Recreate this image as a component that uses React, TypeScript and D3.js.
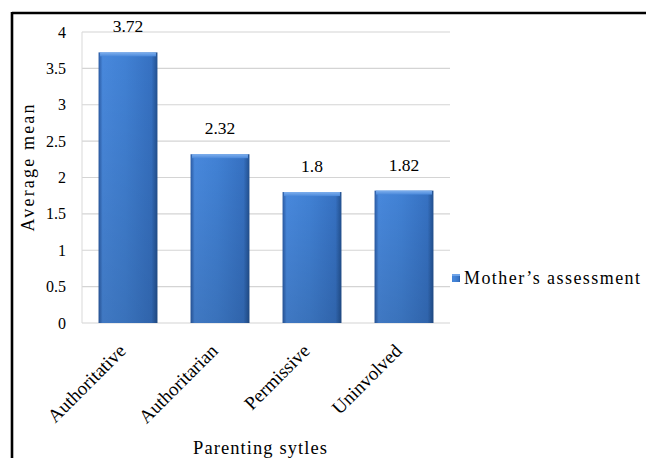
import React from "react";
import * as d3 from "d3";

const categories = ["Authoritative", "Authoritarian", "Permissive", "Uninvolved"];
const values = [3.72, 2.32, 1.8, 1.82];
const valueLabels = ["3.72", "2.32", "1.8", "1.82"];
const yTicks = [0, 0.5, 1, 1.5, 2, 2.5, 3, 3.5, 4];
const yTickLabels = ["0", "0.5", "1", "1.5", "2", "2.5", "3", "3.5", "4"];
const seriesName = "Mother\u2019s assessment";
const yTitle = "Average mean";
const xTitle = "Parenting sytles";

const W = 646;
const H = 458;
const FONT = "'Liberation Serif', 'Times New Roman', serif";
const T: React.CSSProperties = { fontFamily: FONT };

export default function App() {
  const x = d3.scaleBand<string>().domain(categories).range([82, 450]).paddingInner(0.36).paddingOuter(0.18);
  const y = d3.scaleLinear().domain([0, 4]).range([323, 32]);
  const bw = x.bandwidth();

  return (
    <svg
      width={W}
      height={H}
      style={{ position: "absolute", left: 0, top: 0, background: "#fff", fontFamily: FONT }}
    >
      <defs>
        <linearGradient id="barH" x1="0" x2="1" y1="0" y2="0">
          <stop offset="0%" stopColor="#2a5aa3" />
          <stop offset="7%" stopColor="#4888dc" />
          <stop offset="45%" stopColor="#4181d4" />
          <stop offset="90%" stopColor="#3671c2" />
          <stop offset="100%" stopColor="#22508f" />
        </linearGradient>
        <linearGradient id="barV" x1="0" x2="0" y1="0" y2="1">
          <stop offset="0%" stopColor="#000" stopOpacity="0" />
          <stop offset="100%" stopColor="#000" stopOpacity="0.12" />
        </linearGradient>
        <linearGradient id="barTop" x1="0" x2="0" y1="0" y2="1">
          <stop offset="0%" stopColor="#7fb0ee" />
          <stop offset="100%" stopColor="#4a88da" />
        </linearGradient>
      </defs>

      {/* frame */}
      <line x1={12} x2={W} y1={13} y2={13} stroke="#000" strokeWidth={2.6} />
      <line x1={12} x2={12} y1={12} y2={H} stroke="#000" strokeWidth={2.6} />

      {/* gridlines */}
      {yTicks.map((t) => (
        <line key={t} x1={82} x2={450} y1={y(t)} y2={y(t)} stroke="#d4d4d4" strokeWidth={1.2} />
      ))}
      <line x1={82} x2={82} y1={y(4)} y2={y(0)} stroke="#d9d9d9" strokeWidth={1} />

      {/* y tick labels */}
      {yTicks.map((t, i) => (
        <text key={t} x={66} y={y(t)} dy="0.35em" textAnchor="end" fontSize={16} fill="#000" style={T}>
          {yTickLabels[i]}
        </text>
      ))}

      {/* bars */}
      {categories.map((c, i) => {
        const x0 = x(c)!;
        const yt = y(values[i]);
        const h = y(0) - yt;
        return (
          <g key={c}>
            <rect x={x0} y={yt} width={bw} height={h} fill="url(#barH)" />
            <rect x={x0} y={yt} width={bw} height={h} fill="url(#barV)" />
            <rect x={x0 + 1.5} y={yt} width={bw - 3} height={4} fill="url(#barTop)" />
          </g>
        );
      })}

      {/* value labels */}
      {categories.map((c, i) => (
        <text
          key={c}
          x={x(c)! + bw / 2}
          y={y(values[i]) - 20}
          textAnchor="middle"
          fontSize={17.5}
          fill="#000"
          style={T}
        >
          {valueLabels[i]}
        </text>
      ))}

      {/* category labels */}
      {categories.map((c) => {
        const cx = x(c)! + bw / 2 - 1;
        const cy = 352;
        return (
          <text
            key={c}
            x={cx}
            y={cy}
            textAnchor="end"
            fontSize={19}
            transform={`rotate(-45 ${cx} ${cy})`}
            fill="#000"
            style={T}
          >
            {c}
          </text>
        );
      })}

      {/* axis titles */}
      <text
        x={0}
        y={0}
        textAnchor="middle"
        fontSize={18}
        textLength={127}
        lengthAdjust="spacing"
        transform={`translate(34 ${168}) rotate(-90)`}
        fill="#000"
        style={T}
      >
        {yTitle}
      </text>
      <text
        x={260}
        y={454}
        textAnchor="middle"
        fontSize={18.5}
        textLength={134}
        lengthAdjust="spacing"
        fill="#000"
        style={T}
      >
        {xTitle}
      </text>

      {/* legend */}
      <rect x={452} y={274} width={8} height={8} fill="url(#barH)" />
      <rect x={452} y={274} width={8} height={2} fill="#6fa4e8" />
      <text
        x={464}
        y={278}
        dy="0.35em"
        fontSize={18}
        textLength={176}
        lengthAdjust="spacing"
        fill="#000"
        style={T}
      >
        {seriesName}
      </text>
    </svg>
  );
}
